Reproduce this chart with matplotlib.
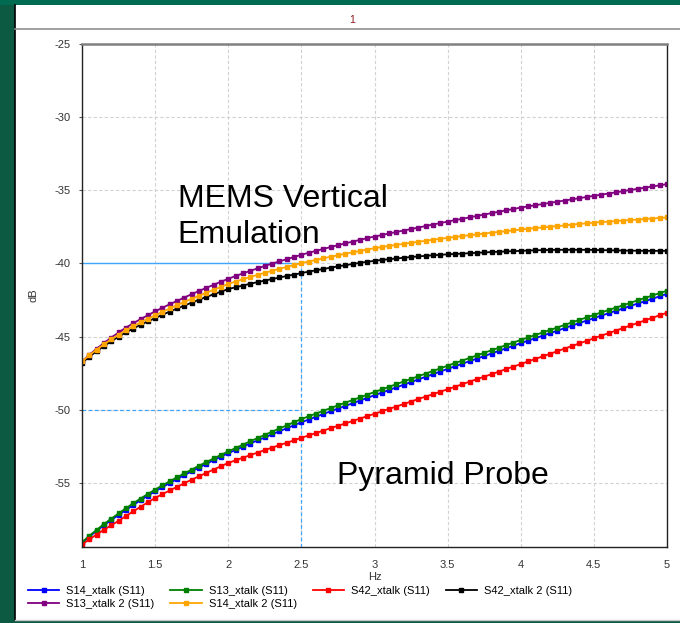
import numpy as np
import matplotlib.pyplot as plt
from matplotlib.patches import Rectangle
from matplotlib.lines import Line2D

plt.rcParams['font.family'] = ['Liberation Sans', 'DejaVu Sans']
plt.rcParams['axes.unicode_minus'] = False

# frequency sweep, 0.05 Hz step
freq = np.round(np.arange(1.0, 5.0001, 0.05), 2)

s14_xtalk = [-59.10, -58.68, -58.28, -57.90, -57.54, -57.20, -56.86, -56.52, -56.19, -55.88, -55.58,
             -55.29, -55.01, -54.74, -54.47, -54.21, -53.95, -53.70, -53.45, -53.21, -52.97,
             -52.75, -52.53, -52.31, -52.10, -51.89, -51.68, -51.47, -51.27, -51.06, -50.86,
             -50.67, -50.48, -50.29, -50.11, -49.92, -49.74, -49.56, -49.38, -49.19, -49.01,
             -48.83, -48.65, -48.47, -48.29, -48.11, -47.93, -47.75, -47.57, -47.39, -47.21,
             -47.03, -46.86, -46.68, -46.51, -46.33, -46.16, -45.98, -45.80, -45.63, -45.45,
             -45.28, -45.11, -44.94, -44.77, -44.60, -44.42, -44.25, -44.08, -43.91, -43.74,
             -43.57, -43.41, -43.24, -43.08, -42.91, -42.74, -42.58, -42.41, -42.25, -42.08]

s13_xtalk = [-59.06, -58.62, -58.21, -57.82, -57.45, -57.09, -56.74, -56.40, -56.07, -55.76, -55.46,
             -55.17, -54.89, -54.62, -54.35, -54.09, -53.83, -53.58, -53.33, -53.09, -52.85,
             -52.62, -52.39, -52.16, -51.94, -51.72, -51.50, -51.28, -51.07, -50.85, -50.64,
             -50.45, -50.26, -50.07, -49.89, -49.70, -49.52, -49.34, -49.16, -48.97, -48.79,
             -48.61, -48.43, -48.25, -48.07, -47.89, -47.71, -47.53, -47.35, -47.17, -46.99,
             -46.81, -46.64, -46.46, -46.29, -46.11, -45.94, -45.76, -45.58, -45.41, -45.23,
             -45.06, -44.89, -44.72, -44.55, -44.38, -44.20, -44.03, -43.86, -43.69, -43.52,
             -43.35, -43.19, -43.02, -42.86, -42.69, -42.52, -42.36, -42.19, -42.03, -41.86]

s42_xtalk = [-59.22, -58.86, -58.53, -58.21, -57.90, -57.60, -57.27, -56.95, -56.64, -56.33, -56.03,
             -55.77, -55.52, -55.27, -55.02, -54.78, -54.55, -54.32, -54.09, -53.86, -53.64,
             -53.46, -53.28, -53.11, -52.93, -52.76, -52.59, -52.42, -52.26, -52.09, -51.92,
             -51.76, -51.59, -51.43, -51.26, -51.10, -50.94, -50.77, -50.61, -50.44, -50.28,
             -50.11, -49.94, -49.78, -49.61, -49.44, -49.27, -49.10, -48.94, -48.77, -48.60,
             -48.43, -48.26, -48.08, -47.91, -47.74, -47.57, -47.40, -47.22, -47.05, -46.88,
             -46.70, -46.53, -46.35, -46.18, -46.00, -45.82, -45.65, -45.47, -45.30, -45.12,
             -44.94, -44.77, -44.59, -44.42, -44.24, -44.07, -43.89, -43.72, -43.54, -43.37]

s42_xtalk2 = [-46.80, -46.38, -46.00, -45.65, -45.32, -45.01, -44.72, -44.45, -44.20, -43.96, -43.74,
              -43.51, -43.29, -43.08, -42.88, -42.68, -42.48, -42.29, -42.11, -41.93, -41.75,
              -41.63, -41.51, -41.39, -41.28, -41.17, -41.07, -40.96, -40.86, -40.76, -40.66,
              -40.56, -40.47, -40.38, -40.29, -40.20, -40.12, -40.04, -39.96, -39.89, -39.82,
              -39.76, -39.71, -39.66, -39.61, -39.56, -39.52, -39.48, -39.44, -39.41, -39.38,
              -39.35, -39.33, -39.30, -39.27, -39.25, -39.22, -39.20, -39.18, -39.16, -39.14,
              -39.12, -39.10, -39.09, -39.08, -39.07, -39.07, -39.07, -39.07, -39.07, -39.08,
              -39.09, -39.10, -39.11, -39.12, -39.13, -39.13, -39.14, -39.14, -39.14, -39.14]

s13_xtalk2 = [-46.70, -46.25, -45.83, -45.44, -45.07, -44.72, -44.39, -44.09, -43.81, -43.54, -43.28,
              -43.03, -42.79, -42.56, -42.33, -42.10, -41.88, -41.67, -41.46, -41.25, -41.05,
              -40.86, -40.68, -40.51, -40.34, -40.17, -40.01, -39.86, -39.71, -39.56, -39.41,
              -39.27, -39.14, -39.01, -38.88, -38.75, -38.63, -38.51, -38.39, -38.27, -38.16,
              -38.06, -37.95, -37.85, -37.75, -37.65, -37.55, -37.44, -37.34, -37.24, -37.14,
              -37.04, -36.95, -36.85, -36.75, -36.66, -36.56, -36.47, -36.37, -36.28, -36.18,
              -36.10, -36.02, -35.94, -35.86, -35.78, -35.70, -35.62, -35.54, -35.46, -35.38,
              -35.30, -35.22, -35.14, -35.06, -34.98, -34.90, -34.82, -34.74, -34.66, -34.58]

s14_xtalk2 = [-46.70, -46.28, -45.89, -45.53, -45.19, -44.87, -44.57, -44.29, -44.03, -43.78, -43.55,
              -43.31, -43.08, -42.85, -42.63, -42.42, -42.21, -42.00, -41.80, -41.60, -41.40,
              -41.24, -41.08, -40.93, -40.78, -40.64, -40.50, -40.37, -40.24, -40.11, -39.98,
              -39.87, -39.76, -39.65, -39.54, -39.44, -39.34, -39.24, -39.15, -39.05, -38.96,
              -38.88, -38.80, -38.73, -38.66, -38.59, -38.52, -38.45, -38.38, -38.32, -38.25,
              -38.19, -38.13, -38.07, -38.02, -37.96, -37.90, -37.85, -37.79, -37.74, -37.68,
              -37.63, -37.58, -37.54, -37.49, -37.45, -37.40, -37.35, -37.30, -37.26, -37.21,
              -37.17, -37.14, -37.10, -37.07, -37.03, -37.00, -36.96, -36.93, -36.89, -36.86]

series = [
    ('S14_xtalk (S11)', s14_xtalk, '#0000ff'),
    ('S13_xtalk (S11)', s13_xtalk, '#008000'),
    ('S42_xtalk (S11)', s42_xtalk, '#ff0000'),
    ('S42_xtalk 2 (S11)', s42_xtalk2, '#000000'),
    ('S13_xtalk 2 (S11)', s13_xtalk2, '#800080'),
    ('S14_xtalk 2 (S11)', s14_xtalk2, '#ffa500'),
]

# cursor readout
cursor_x = 2.5
cursor_hi = -40
cursor_lo = -50

fig = plt.figure(figsize=(6.8, 6.23), dpi=100, facecolor='#0b5a41')
W, H = 680, 623

# white panel + frame lines (kept behind the axes)
fig.patches.append(Rectangle((15/W, 3/H), 1 - 15/W, 615/H, transform=fig.transFigure,
                             facecolor='white', edgecolor='none', zorder=-5))
fig.patches.append(Rectangle((0, 1 - 5/H), 1, 5/H, transform=fig.transFigure,
                             facecolor='#006b50', edgecolor='none', zorder=-5))
fig.lines.append(Line2D([15/W, 15/W], [3/H, 1 - 5/H], transform=fig.transFigure, color='black', lw=1.2, zorder=-4))
fig.lines.append(Line2D([15/W, 1], [1 - 29/H, 1 - 29/H], transform=fig.transFigure, color='#909090', lw=1.2, zorder=-4))
fig.lines.append(Line2D([15/W, 1], [3/H, 3/H], transform=fig.transFigure, color='#c8c8c8', lw=1.0, zorder=-4))
fig.text(352/W, 1 - 20/H, '1', color='#8b1a1a', fontsize=7.5, ha='center', va='center')

ax = fig.add_axes([82/W, (H - 546.5)/H, 585/W, 502.5/H])
ax.set_zorder(5)

for name, vals, col in series:
    ax.plot(freq, vals, color=col, lw=1.3, marker='s', markersize=2.6, label=name)

# cursor lines
ax.plot([1, cursor_x], [cursor_hi, cursor_hi], color='#3ea6ff', lw=1.0, zorder=1)
ax.plot([1, cursor_x], [cursor_lo, cursor_lo], color='#3ea6ff', lw=0.9, ls=(0, (3, 2)), zorder=1)
ax.plot([cursor_x, cursor_x], [-59.35, cursor_hi], color='#3ea6ff', lw=0.9, ls=(0, (3, 2)), zorder=1)

ax.set_xlim(1, 5)
ax.set_ylim(-59.35, -25)
ax.set_xticks(np.arange(1, 5.01, 0.5))
ax.set_xticklabels(['1', '1.5', '2', '2.5', '3', '3.5', '4', '4.5', '5'])
ax.set_yticks([-55, -50, -45, -40, -35, -30, -25])
ax.grid(True, color='#d2d2d2', lw=0.8, ls=(0, (3, 2)), zorder=0)
ax.set_axisbelow(True)

ax.tick_params(axis='x', length=0, pad=10, labelsize=8, labelcolor='#333333')
ax.tick_params(axis='y', length=2.5, pad=6, labelsize=8, labelcolor='#333333', color='#555555')
for s in ['left', 'bottom', 'right']:
    ax.spines[s].set_color('#222222')
    ax.spines[s].set_linewidth(1.0)
ax.spines['top'].set_color('#808080')
ax.spines['top'].set_linewidth(1.8)

ax.set_xlabel('Hz', fontsize=8, color='#333333', labelpad=1)
ax.set_ylabel('dB', fontsize=8, color='#333333')
ax.yaxis.set_label_coords(-0.075, 0.5)

ax.text(1.655, -36.85, 'MEMS Vertical\nEmulation', fontsize=23, color='black',
        ha='left', va='center', linespacing=1.27)
ax.text(2.745, -54.5, 'Pyramid Probe', fontsize=23, color='black', ha='left', va='center')

# legend: row 1 = first four series, row 2 = last two
h, l = ax.get_legend_handles_labels()
order = [0, 4, 1, 5, 2, 3]
fig.legend([h[i] for i in order], [l[i] for i in order], ncol=4, loc='upper left',
           bbox_to_anchor=(28/W, 1 - 586/H), frameon=False, fontsize=8,
           handlelength=2.8, handletextpad=0.63, columnspacing=1.45, labelspacing=0.3,
           borderaxespad=0, borderpad=0)

fig.savefig('out.png', dpi=100, facecolor=fig.get_facecolor())
